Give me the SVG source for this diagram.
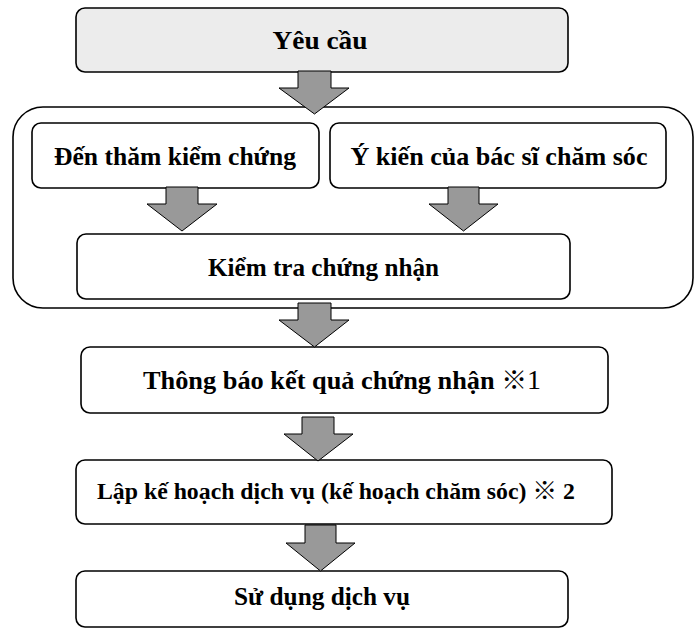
<svg xmlns="http://www.w3.org/2000/svg" width="699" height="632" viewBox="0 0 699 632">
<style>
.box{fill:#ffffff;stroke:#000;stroke-width:1.6}
.top{fill:#ececec}
.outer{fill:none;stroke:#000;stroke-width:1.6}
.arr{fill:#999999;stroke:#000;stroke-width:1}
.t{font-family:"Liberation Serif","Times New Roman",serif;font-weight:bold;font-size:25.5px;fill:#000}
.s{font-size:23px}
.cjk{font-family:"Noto Sans CJK JP",sans-serif;font-weight:bold}
.num{font-family:"Liberation Serif",serif;font-weight:normal;font-size:27px}
</style>
<rect width="699" height="632" fill="#ffffff"/>
<g id="container">
<rect class="outer" x="13" y="107" width="680" height="201" rx="30" ry="30"/>
</g>
<g id="n-yeucau">
<rect class="box top" x="76" y="8" width="492" height="64" rx="9"/>
<text class="t" x="320" y="49" text-anchor="middle" textLength="95" lengthAdjust="spacingAndGlyphs">Yêu cầu</text>
</g>
<g id="n-denTham">
<rect class="box" x="32" y="123" width="287" height="65" rx="9"/>
<text class="t" x="175" y="164.5" text-anchor="middle" textLength="242" lengthAdjust="spacingAndGlyphs">Đến thăm kiểm chứng</text>
</g>
<g id="n-ykien">
<rect class="box" x="330" y="123" width="336" height="65" rx="9"/>
<text class="t" x="499" y="164.5" text-anchor="middle" textLength="297" lengthAdjust="spacingAndGlyphs">Ý kiến của bác sĩ chăm sóc</text>
</g>
<g id="n-kiemtra">
<rect class="box" x="77" y="234" width="493" height="65" rx="9"/>
<text class="t" x="323.5" y="275.5" text-anchor="middle" textLength="231" lengthAdjust="spacingAndGlyphs">Kiểm tra chứng nhận</text>
</g>
<g id="n-thongbao">
<rect class="box" x="81" y="347" width="527" height="66" rx="9"/>
<text class="t" x="143" y="389" textLength="398" lengthAdjust="spacingAndGlyphs">Thông báo kết quả chứng nhận  <tspan class="cjk" style="font-size:25px">※</tspan><tspan class="num">1</tspan></text>
</g>
<g id="n-lapkehoach">
<rect class="box" x="76" y="460" width="536" height="64" rx="9"/>
<text class="t s" x="97" y="499" textLength="478" lengthAdjust="spacingAndGlyphs">Lập kế hoạch dịch vụ (kế hoạch chăm sóc)  <tspan class="cjk" style="font-size:24px">※</tspan> 2</text>
</g>
<g id="n-sudung">
<rect class="box" x="76" y="571" width="492" height="56" rx="9"/>
<text class="t" x="322" y="605" text-anchor="middle" textLength="176" lengthAdjust="spacingAndGlyphs">Sử dụng dịch vụ</text>
</g>
<g id="connectors">
<polygon class="arr" points="298,71 331,71 331,88 349,88 314.5,114 279,88 298,88"/>
<polygon class="arr" points="166,187 198,187 198,204 217,204 182,231 147,204 166,204"/>
<polygon class="arr" points="448,187 479,187 479,204 498,204 463.5,231 429,204 448,204"/>
<polygon class="arr" points="298,303 331,303 331,320 349,320 314.5,347 279,320 298,320"/>
<polygon class="arr" points="302,417 334,417 334,434 353,434 318,461 284,434 302,434"/>
<polygon class="arr" points="305,525 336,525 336,543 355,543 320.5,571 286,543 305,543"/>
</g>
</svg>
